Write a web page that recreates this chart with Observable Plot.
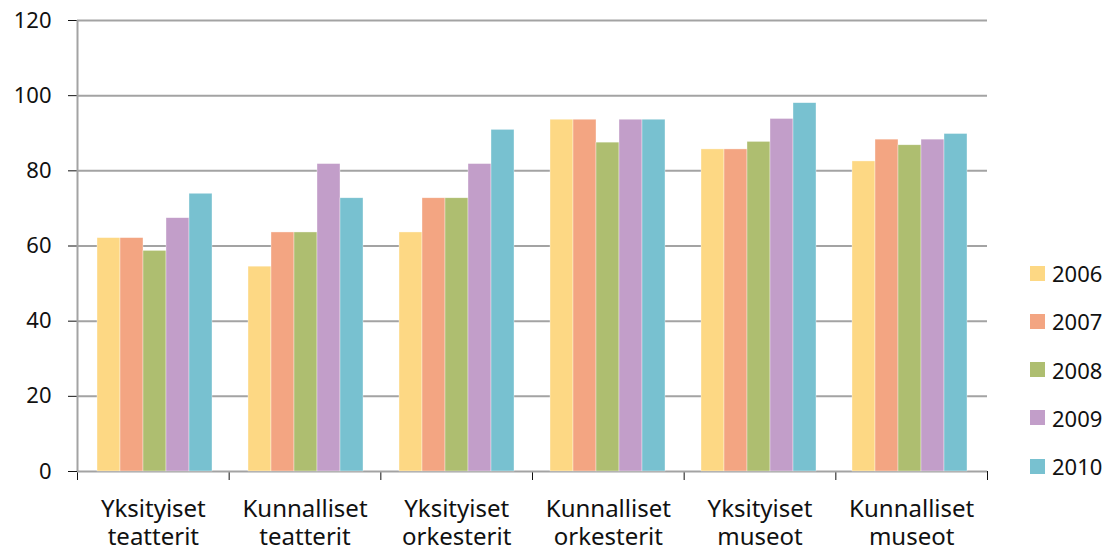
<!DOCTYPE html>
<html>
<head>
<meta charset="utf-8">
<script src="https://cdn.jsdelivr.net/npm/d3@7"></script>
<script src="https://cdn.jsdelivr.net/npm/@observablehq/plot@0.6"></script>
<style>
  html, body { margin: 0; padding: 0; background: #fff; }
  #wrap { position: relative; width: 1109px; height: 551px; font-family: "Noto Sans", sans-serif; }
  #wrap > .layer { position: absolute; left: 0; top: 0; }
  .bg line, .bg path.domain { stroke: #a3a3a3; stroke-width: 2px; }
  .bg text { fill: #111; }
  #legend { position: absolute; left: 1030px; top: 0; }
  .lg-row { position: absolute; left: 0; display: flex; align-items: center; white-space: nowrap; height: 30px; }
  .lg-sw { width: 15px; height: 15px; margin-right: 7px; }
  .lg-tx { font-size: 22px; color: #111; font-family: "Noto Sans", sans-serif; }
</style>
</head>
<body>
<div id="wrap"></div>
<script>
// ---- data ----
const categories = [
  "Yksityiset\nteatterit",
  "Kunnalliset\nteatterit",
  "Yksityiset\norkesterit",
  "Kunnalliset\norkesterit",
  "Yksityiset\nmuseot",
  "Kunnalliset\nmuseot"
];
const years = ["2006", "2007", "2008", "2009", "2010"];
const v2006 = [62.1, 54.5, 63.6, 93.6, 85.7, 82.5];
const v2007 = [62.1, 63.6, 72.7, 93.6, 85.7, 88.3];
const v2008 = [58.7, 63.6, 72.7, 87.5, 87.7, 86.8];
const v2009 = [67.4, 81.8, 81.8, 93.6, 93.8, 88.3];
const v2010 = [73.9, 72.7, 90.9, 93.6, 98.0, 89.8];
const yTicks = [0, 20, 40, 60, 80, 100, 120];
const colors = ["#FDD884", "#F3A582", "#AEBE70", "#C29EC9", "#78C1D0"];

const series = [v2006, v2007, v2008, v2009, v2010];
const data = [];
categories.forEach((c, i) => {
  years.forEach((y, j) => data.push({cat: c, year: y, value: series[j][i]}));
});

const W = 1109, H = 551;
const M = {left: 77, right: 122, top: 20, bottom: 80};
const wrap = document.getElementById("wrap");

// ---- background: axes, grid, separators, category labels ----
const boundaries = d3.range(categories.length + 1);
const bg = Plot.plot({
  width: W, height: H,
  marginLeft: M.left, marginRight: M.right, marginTop: M.top, marginBottom: M.bottom,
  style: {background: "white", fontFamily: "Noto Sans, sans-serif", fontSize: "22px", color: "#111", maxWidth: "none"},
  x: {type: "linear", domain: [0, categories.length], ticks: boundaries, tickSize: 9, tickFormat: () => "", label: null},
  y: {domain: [0, 120], ticks: yTicks, tickSize: 9, tickPadding: 17, label: null},
  marks: [
    Plot.ruleY(yTicks, {stroke: "#a3a3a3", strokeWidth: 2}),
    Plot.ruleX([0], {stroke: "#a3a3a3", strokeWidth: 2}),
    Plot.text(categories, {
      x: (d, i) => i + 0.5, y: 0, text: d => d,
      lineAnchor: "top", dy: 25, fontSize: 24, lineHeight: 1.18, fill: "#111"
    })
  ]
});
bg.classList.add("layer", "bg");
wrap.appendChild(bg);

// ---- foreground: grouped bars ----
const fg = Plot.plot({
  width: W, height: H,
  marginLeft: M.left, marginRight: M.right, marginTop: M.top, marginBottom: M.bottom,
  style: {background: "transparent", maxWidth: "none"},
  fx: {domain: categories, paddingInner: 0.23, paddingOuter: 0.115, axis: null, label: null},
  x: {domain: years, padding: 0, axis: null},
  y: {domain: [0, 120], axis: null},
  color: {domain: years, range: colors},
  facet: {data, x: "cat"},
  marks: [
    Plot.barY(data, {x: "year", y: "value", fill: "year", stroke: "white", strokeWidth: 0.6, strokeOpacity: 0.6})
  ]
});
fg.classList.add("layer");
wrap.appendChild(fg);

// ---- legend ----
const legend = document.createElement("div");
legend.id = "legend";
years.forEach((y, j) => {
  const row = document.createElement("div");
  row.className = "lg-row";
  row.style.top = (273 - 15 + j * 48.25) + "px";
  const sw = document.createElement("div");
  sw.className = "lg-sw";
  sw.style.background = colors[j];
  const tx = document.createElement("span");
  tx.className = "lg-tx";
  tx.textContent = y;
  row.appendChild(sw); row.appendChild(tx);
  legend.appendChild(row);
});
wrap.appendChild(legend);
</script>
</body>
</html>
